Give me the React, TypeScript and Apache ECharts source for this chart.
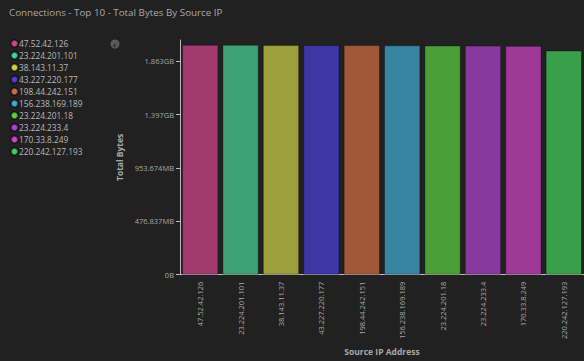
import React, { useEffect, useRef } from "react";
import * as echarts from "echarts";

// Source IPs ranked by total bytes transferred
const sourceIps = [
  "47.52.42.126",
  "23.224.201.101",
  "38.143.11.37",
  "43.227.220.177",
  "198.44.242.151",
  "156.238.169.189",
  "23.224.201.18",
  "23.224.233.4",
  "170.33.8.249",
  "220.242.127.193",
];

// Total bytes per source IP
const totalBytes = [
  2.156e9, 2.155e9, 2.154e9, 2.153e9, 2.152e9, 2.15e9, 2.149e9, 2.148e9, 2.145e9,
  2.102e9,
];

const palette = [
  "#d2458a",
  "#46d496",
  "#cdd046",
  "#4a40d6",
  "#d26e42",
  "#42aad2",
  "#5bd042",
  "#b042d0",
  "#d042c6",
  "#42d05a",
];

const yMax = 2.2e9;
const yInterval = 5e8;

function formatBytes(v: number): string {
  if (v === 0) return "0B";
  const gb = v / 1024 ** 3;
  if (gb >= 1) return `${gb.toFixed(3)}GB`;
  const mb = v / 1024 ** 2;
  return `${mb.toFixed(3)}MB`;
}

const FONT = "'Open Sans', 'Noto Sans', sans-serif";

export default function App() {
  const ref = useRef<HTMLDivElement>(null);

  useEffect(() => {
    if (!ref.current) return;
    const chart = echarts.init(ref.current, null, { renderer: "svg" });

    // One series per IP, overlapped on the category axis so each category shows its own bar
    const series = sourceIps.map((ip, i) => ({
      name: ip,
      type: "bar" as const,
      barGap: "-100%",
      barCategoryGap: "10%",
      data: sourceIps.map((_, j) => (j === i ? totalBytes[i] : "-")),
      itemStyle: {
        color: palette[i],
        opacity: 0.72,
        borderColor: "rgba(0,0,0,0.45)",
        borderWidth: 1,
      },
    }));

    chart.setOption({
      animation: false,
      backgroundColor: "#212121",
      color: palette,
      title: {
        text: "Connections - Top 10 - Total Bytes By Source IP",
        left: 4,
        top: 2,
        textStyle: {
          color: "#a8a8a8",
          fontSize: 9.8,
          fontWeight: "normal",
          fontFamily: FONT,
        },
      },
      legend: {
        orient: "vertical",
        left: 5,
        top: 33,
        icon: "circle",
        itemWidth: 7,
        itemHeight: 7,
        itemGap: 1,
        itemStyle: { opacity: 1 },
        textStyle: {
          color: "#b8b8b8",
          fontSize: 8.3,
          lineHeight: 11,
          fontFamily: FONT,
          padding: [0, 0, 0, -4],
        },
        data: sourceIps,
      },
      graphic: [
        {
          type: "circle",
          shape: { cx: 115, cy: 44, r: 4.5 },
          style: { fill: "#5a5a5a" },
        },
        {
          type: "text",
          x: 114.5,
          y: 44,
          style: {
            text: "‹",
            fill: "#262626",
            fontSize: 9,
            fontWeight: "bold",
            align: "center",
            verticalAlign: "middle",
            fontFamily: FONT,
          },
        },
      ],
      grid: {
        left: 180,
        top: 40,
        bottom: 81,
        width: 413,
        containLabel: false,
      },
      xAxis: {
        type: "category",
        data: sourceIps,
        name: "Source IP Address",
        nameLocation: "middle",
        nameGap: 68,
        nameTextStyle: {
          color: "#a8a8a8",
          fontSize: 8.5,
          fontWeight: "bold",
          fontFamily: FONT,
        },
        axisLine: { lineStyle: { color: "#bbbbbb", width: 1 } },
        axisTick: { alignWithLabel: true, length: 4, lineStyle: { color: "#bbbbbb" } },
        axisLabel: {
          rotate: 90,
          color: "#a8a8a8",
          fontSize: 7.5,
          margin: 7,
          interval: 0,
          fontFamily: FONT,
        },
      },
      yAxis: {
        type: "value",
        min: 0,
        max: yMax,
        interval: yInterval,
        name: "Total Bytes",
        nameLocation: "middle",
        nameGap: 54,
        nameTextStyle: {
          color: "#a8a8a8",
          fontSize: 8.5,
          fontWeight: "bold",
          fontFamily: FONT,
        },
        splitLine: { show: false },
        axisLine: { show: true, lineStyle: { color: "#bbbbbb", width: 1 } },
        axisTick: { show: true, length: 4, lineStyle: { color: "#bbbbbb" } },
        axisLabel: {
          color: "#a8a8a8",
          fontSize: 7.5,
          margin: 6,
          showMaxLabel: false,
          fontFamily: FONT,
          formatter: (v: number) => (v > 2.1e9 ? "" : formatBytes(v)),
        },
      },
      series,
    });

    return () => chart.dispose();
  }, []);

  return (
    <div
      ref={ref}
      style={{ position: "absolute", left: 0, top: 0, width: 584, height: 361 }}
    />
  );
}
